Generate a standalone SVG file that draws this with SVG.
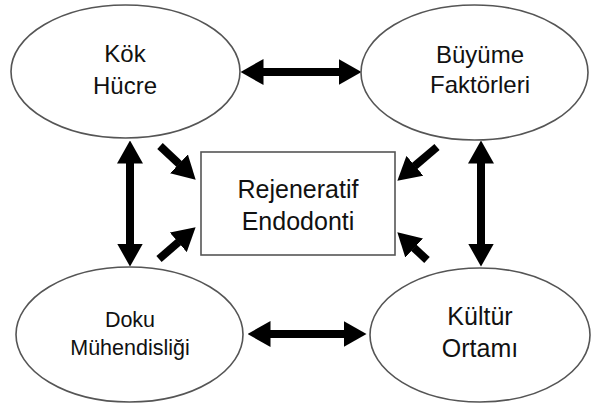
<svg xmlns="http://www.w3.org/2000/svg" width="591" height="408" viewBox="0 0 591 408">
<style>
.node{fill:#fff;stroke:#555;stroke-width:1.6}
.lbl{font-family:"Liberation Sans",Arial,sans-serif;fill:#111;text-anchor:middle}
.conn{stroke:#000;stroke-width:8;fill:none}
.dbl{marker-start:url(#ah);marker-end:url(#ah)}
.sgl{marker-end:url(#ah)}
</style>
<defs>
<marker id="ah" markerUnits="userSpaceOnUse" viewBox="0 0 23 26" refX="0.5" refY="13" markerWidth="23" markerHeight="26" orient="auto-start-reverse">
<path d="M0,0 L23,13 L0,26 z" fill="#000"/>
</marker>
</defs>
<rect width="591" height="408" fill="#fff"/>
<g id="connectors">
<line class="conn dbl" x1="263" y1="72" x2="339" y2="72"/>
<line class="conn dbl" x1="270" y1="334" x2="344" y2="334"/>
<line class="conn dbl" x1="130" y1="163" x2="130" y2="244"/>
<line class="conn dbl" x1="481" y1="163" x2="481" y2="244"/>
<line class="conn sgl" x1="160" y1="146" x2="179.3" y2="164.2"/>
<line class="conn sgl" x1="159" y1="259" x2="178.6" y2="242"/>
<line class="conn sgl" x1="437" y1="147" x2="414.5" y2="166.1"/>
<line class="conn sgl" x1="427" y1="260" x2="413.8" y2="247.7"/>
</g>
<g id="kok-hucre">
<ellipse class="node" cx="125.5" cy="71.5" rx="114.5" ry="66.5"/>
<text class="lbl" x="125" y="62" font-size="24">Kök</text>
<text class="lbl" x="125" y="94" font-size="24">Hücre</text>
</g>
<g id="buyume-faktorleri">
<ellipse class="node" cx="474.5" cy="72.5" rx="113.5" ry="67.5"/>
<text class="lbl" x="480" y="63" font-size="24">Büyüme</text>
<text class="lbl" x="480" y="93" font-size="24">Faktörleri</text>
</g>
<g id="rejeneratif-endodonti">
<rect class="node" x="201" y="152" width="194" height="103"/>
<text class="lbl" x="298" y="198" font-size="25">Rejeneratif</text>
<text class="lbl" x="298" y="230" font-size="25">Endodonti</text>
</g>
<g id="doku-muhendisligi">
<ellipse class="node" cx="129.5" cy="334.5" rx="113.5" ry="67.5"/>
<text class="lbl" x="130" y="327" font-size="21.5">Doku</text>
<text class="lbl" x="130" y="355" font-size="21.5">Mühendisliği</text>
</g>
<g id="kultur-ortami">
<ellipse class="node" cx="480" cy="335" rx="110" ry="67"/>
<text class="lbl" x="480" y="325" font-size="25">Kültür</text>
<text class="lbl" x="480" y="357" font-size="25">Ortamı</text>
</g>
</svg>
